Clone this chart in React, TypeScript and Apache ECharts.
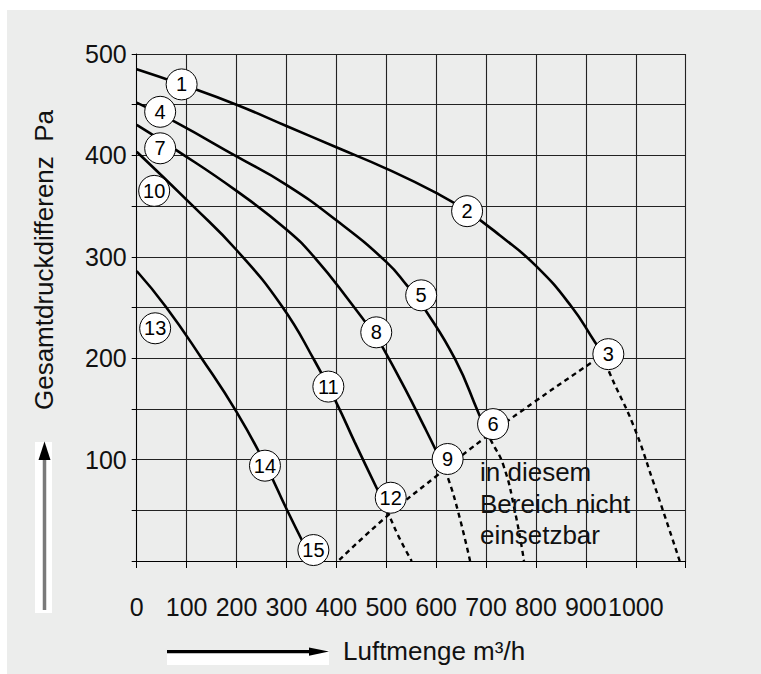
import React, { useEffect, useRef } from "react";
import * as echarts from "echarts";

const FONT = '"Liberation Sans", Arial, Helvetica, sans-serif';

// Axis ranges (m³/h, Pa)
const xMax = 1100;
const xStep = 100;
const yMax = 500;
const yStep = 50;

// Fan curves: solid (usable) part and dotted continuation
const curve1Solid = [[0, 485], [90, 470], [200, 450], [300, 429], [400, 408], [500, 387], [600, 363], [662, 345], [728, 321], [800, 291], [871, 251], [918, 216], [935, 204]];
const curve1Dotted = [[935, 204], [948, 185], [995, 134], [1035, 78], [1088, 0]];

const curve2Solid = [[0, 452], [77, 433], [200, 399], [300, 371], [400, 336], [500, 295], [541, 272], [577.6, 248], [638, 199], [684, 147], [700, 128]];
const curve2Dotted = [[700, 128], [711, 117.7], [734.5, 94.7], [758, 48.6], [776, 0]];

const curve3Solid = [[0, 430], [80, 405], [200, 365], [300, 327], [357, 299], [430, 254], [479.5, 221], [494, 209.8], [537.6, 170], [577.7, 131], [597.7, 111], [610, 98]];
const curve3Dotted = [[610, 98], [624, 81.5], [644, 48.6], [668, 0]];

const curve4Solid = [[0, 403.6], [113, 350], [200, 306.7], [290, 252], [357, 197], [400.7, 155.5], [437, 117], [481, 71.7], [494, 58]];
const curve4Dotted = [[494, 58], [507.5, 43], [528, 21], [551, 0]];

const curve5Solid = [[0, 286], [58, 251], [130, 200], [200, 147], [257, 96], [300.5, 51], [330.6, 21], [348, 4]];

// Limit of usable range (dashed)
const limitLine = [[406, 1], [501, 44], [601, 84], [691, 119], [800, 158], [912, 196], [930, 202]];

// Numbered circle markers: [label, m³/h, Pa]
const markers: [string, number, number][] = [
  ["1", 90, 470], ["2", 662, 345], ["3", 945, 204],
  ["4", 47, 443], ["5", 570, 262], ["6", 714, 135],
  ["7", 47, 407], ["8", 480, 225.5], ["9", 623, 100.6],
  ["10", 35, 365], ["11", 384, 172], ["12", 509, 62.4],
  ["13", 37, 229.5], ["14", 257, 94], ["15", 354, 10.8],
];

const yName = "Gesamtdruckdifferenz  Pa";
const xName = "Luftmenge m³/h";
const noteText = "in diesem\nBereich nicht\neinsetzbar";

export default function App() {
  const ref = useRef<HTMLDivElement>(null);

  useEffect(() => {
    document.body.style.margin = "0";
    const chart = echarts.init(ref.current!, undefined, { renderer: "svg" });

    const solid = (data: number[][]) => ({
      type: "line",
      data,
      smooth: 0.5,
      symbol: "none",
      silent: true,
      z: 3,
      lineStyle: { color: "#000", width: 2.6 },
    });
    const dotted = (data: number[][]) => ({
      ...solid(data),
      lineStyle: { color: "#000", width: 2.4, type: [5, 4] },
    });

    chart.setOption({
      animation: false,
      textStyle: { fontFamily: FONT },
      grid: { left: 136.7, right: 75.3, top: 54, bottom: 113 },
      xAxis: {
        type: "value",
        min: 0,
        max: xMax,
        interval: xStep,
        axisLine: { show: true, lineStyle: { color: "#000", width: 1 } },
        axisTick: { show: true, length: 7, lineStyle: { color: "#000", width: 1 } },
        axisLabel: {
          fontSize: 25,
          color: "#111",
          margin: 33,
          fontFamily: FONT,
          formatter: (v: number) => (v >= xMax ? "" : String(v)),
        },
        splitLine: { show: true, lineStyle: { color: "#222", width: 1.1 } },
      },
      yAxis: {
        type: "value",
        min: 0,
        max: yMax,
        interval: yStep,
        axisLine: { show: true, lineStyle: { color: "#000", width: 1 } },
        axisTick: { show: true, length: 5, lineStyle: { color: "#000", width: 1 } },
        axisLabel: {
          fontSize: 25,
          color: "#111",
          margin: 10,
          fontFamily: FONT,
          formatter: (v: number) => (v !== 0 && v % 100 === 0 ? String(v) : ""),
        },
        splitLine: { show: true, lineStyle: { color: "#222", width: 1.1 } },
      },
      series: [
        solid(curve1Solid), dotted(curve1Dotted),
        solid(curve2Solid), dotted(curve2Dotted),
        solid(curve3Solid), dotted(curve3Dotted),
        solid(curve4Solid), dotted(curve4Dotted),
        solid(curve5Solid),
        dotted(limitLine),
        {
          type: "scatter",
          data: markers.map(([n, x, y]) => ({ name: n, value: [x, y] })),
          symbol: "circle",
          symbolSize: 31,
          clip: false,
          silent: true,
          z: 5,
          itemStyle: { color: "#fff", borderColor: "#000", borderWidth: 1, opacity: 1 },
          label: {
            show: true,
            position: "inside",
            formatter: "{b}",
            fontSize: 20,
            color: "#000",
            fontFamily: FONT,
          },
        },
      ],
      graphic: [
        {
          type: "text",
          x: 44,
          y: 260,
          rotation: Math.PI / 2,
          style: {
            text: yName,
            fontSize: 26,
            fontFamily: FONT,
            fill: "#111",
            align: "center",
            verticalAlign: "middle",
          },
        },
        {
          type: "text",
          x: 343,
          y: 651,
          style: {
            text: xName,
            fontSize: 26,
            fontFamily: FONT,
            fill: "#111",
            align: "left",
            verticalAlign: "middle",
          },
        },
        {
          type: "text",
          x: 480,
          y: 456,
          z: 10,
          style: {
            text: noteText,
            fontSize: 26,
            lineHeight: 31.7,
            fontFamily: FONT,
            fill: "#111",
            align: "left",
            verticalAlign: "top",
          },
        },
        // vertical arrow
        { type: "rect", shape: { x: 35, y: 442, width: 17, height: 171 }, style: { fill: "#fff" } },
        { type: "line", shape: { x1: 44.5, y1: 458, x2: 44.5, y2: 610 }, style: { stroke: "#7a7a7a", lineWidth: 3.5 } },
        { type: "polygon", shape: { points: [[44.5, 441.5], [38.5, 460], [50.5, 460]] }, style: { fill: "#000" } },
        // horizontal arrow
        { type: "rect", shape: { x: 167, y: 650, width: 162, height: 15 }, style: { fill: "#fff" } },
        { type: "line", shape: { x1: 167, y1: 651.6, x2: 311, y2: 651.6 }, style: { stroke: "#000", lineWidth: 3.2 } },
        { type: "polygon", shape: { points: [[309, 647.5], [329, 651.6], [309, 655.7]] }, style: { fill: "#000" } },
      ],
    });

    return () => chart.dispose();
  }, []);

  return (
    <div style={{ position: "relative", width: 761, height: 674, background: "#fff", overflow: "hidden" }}>
      <div style={{ position: "absolute", left: 7, top: 10, right: 0, bottom: 0, background: "#ecedec" }} />
      <div ref={ref} style={{ position: "absolute", left: 0, top: 0, width: 761, height: 674 }} />
    </div>
  );
}
